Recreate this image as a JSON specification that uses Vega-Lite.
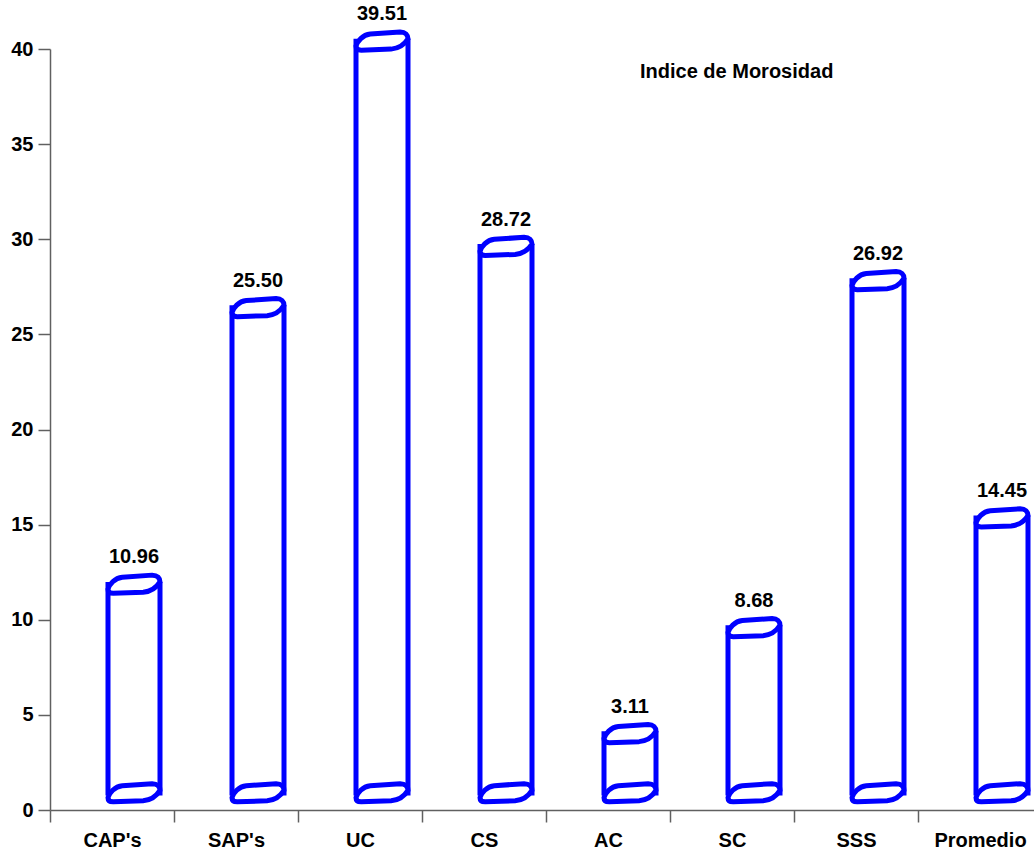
{
  "$schema": "https://vega.github.io/schema/vega-lite/v6.json",
  "autosize": {"type": "none"},
  "padding": {"left": 50, "top": 49, "right": 0, "bottom": 42},
  "width": 992,
  "height": 761,
  "background": "white",
  "config": {
    "view": {"stroke": null},
    "font": "Liberation Sans",
    "axis": {
      "grid": false,
      "domainColor": "#606060",
      "tickColor": "#606060",
      "domainWidth": 1.5,
      "tickWidth": 1.5,
      "tickSize": 12,
      "labelFont": "Liberation Sans",
      "labelFontWeight": "bold",
      "labelFontSize": 20,
      "labelColor": "black",
      "title": null
    }
  },
  "title": {
    "text": "Indice de Morosidad",
    "anchor": "start",
    "frame": "group",
    "dx": 590,
    "dy": 82,
    "font": "Liberation Sans",
    "fontSize": 20,
    "fontWeight": "bold",
    "color": "black"
  },
  "data": {
    "values": [
      {"grupo": "CAP's", "indice": 10.96},
      {"grupo": "SAP's", "indice": 25.50},
      {"grupo": "UC", "indice": 39.51},
      {"grupo": "CS", "indice": 28.72},
      {"grupo": "AC", "indice": 3.11},
      {"grupo": "SC", "indice": 8.68},
      {"grupo": "SSS", "indice": 26.92},
      {"grupo": "Promedio", "indice": 14.45}
    ]
  },
  "encoding": {
    "x": {
      "field": "grupo",
      "type": "nominal",
      "sort": null,
      "scale": {"paddingInner": 0, "paddingOuter": 0},
      "axis": {"labelAngle": 0, "tickBand": "extent", "labelPadding": 8}
    }
  },
  "layer": [
    {
      "mark": {
        "type": "bar",
        "width": 52,
        "fill": null,
        "fillOpacity": 0,
        "stroke": "#0000FF",
        "strokeWidth": 5,
        "xOffset": 22,
        "yOffset": -17,
        "y2Offset": -17,
        "clip": false
      },
      "encoding": {
        "y": {
          "field": "indice",
          "type": "quantitative",
          "scale": {"domain": [0, 40], "nice": false},
          "axis": {"values": [0, 5, 10, 15, 20, 25, 30, 35, 40], "labelPadding": 5}
        },
        "y2": {"datum": 0}
      }
    },
    {
      "mark": {
        "type": "point",
        "shape": "M-1,0.18 C-0.95,0 -0.75,-0.25 -0.45,-0.28 L0.7,-0.36 C0.9,-0.36 1,-0.24 1,-0.1 C0.85,0.14 0.6,0.28 0.35,0.3 L-0.8,0.34 C-0.95,0.34 -1,0.28 -1,0.18 Z",
        "size": 2704,
        "fill": "white",
        "fillOpacity": 1,
        "stroke": "#0000FF",
        "strokeWidth": 5,
        "opacity": 1,
        "xOffset": 22,
        "yOffset": -17
      },
      "encoding": {"y": {"datum": 0, "type": "quantitative"}}
    },
    {
      "mark": {
        "type": "point",
        "shape": "M-1,0.18 C-0.95,0 -0.75,-0.25 -0.45,-0.28 L0.7,-0.36 C0.9,-0.36 1,-0.24 1,-0.1 C0.85,0.14 0.6,0.28 0.35,0.3 L-0.8,0.34 C-0.95,0.34 -1,0.28 -1,0.18 Z",
        "size": 2704,
        "fill": "white",
        "fillOpacity": 1,
        "stroke": "#0000FF",
        "strokeWidth": 5,
        "opacity": 1,
        "xOffset": 22,
        "yOffset": -17
      },
      "encoding": {"y": {"field": "indice", "type": "quantitative"}}
    },
    {
      "mark": {
        "type": "text",
        "font": "Liberation Sans",
        "fontSize": 20,
        "fontWeight": "bold",
        "color": "black",
        "baseline": "middle",
        "xOffset": 22,
        "dy": -44
      },
      "encoding": {
        "y": {"field": "indice", "type": "quantitative"},
        "text": {"field": "indice", "type": "quantitative", "format": ".2f"}
      }
    }
  ]
}
